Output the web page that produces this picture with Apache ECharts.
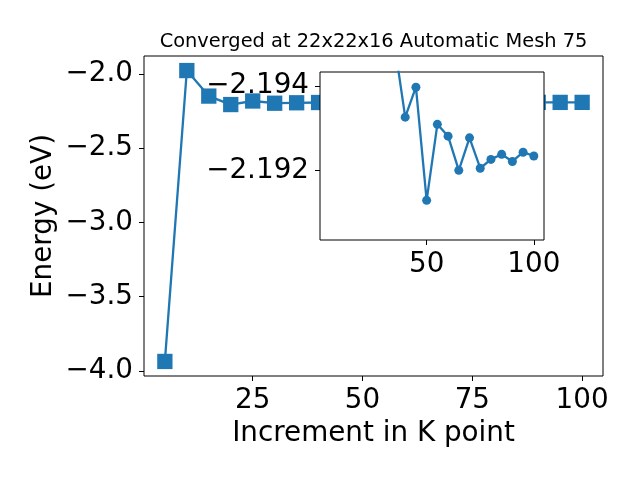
<!DOCTYPE html>
<html>
<head>
<meta charset="utf-8">
<script src="https://cdn.jsdelivr.net/npm/echarts@6/dist/echarts.min.js"></script>
<style>html,body{margin:0;padding:0;background:#fff}#c{width:640px;height:480px}</style>
</head>
<body>
<div id="c"></div>
<script>
const titleText = 'Converged at 22x22x16 Automatic Mesh 75';
const xName = 'Increment in K point';
const yName = 'Energy (eV)';
const kPoints = [5, 10, 15, 20, 25, 30, 35, 40, 45, 50, 55, 60, 65, 70, 75, 80, 85, 90, 95, 100];
const energies = [-3.937, -1.978, -2.150, -2.207, -2.183, -2.198, -2.1950, -2.19326, -2.19397, -2.19129, -2.19309, -2.19281, -2.19200, -2.19277, -2.19205, -2.19226, -2.19238, -2.19221, -2.19243, -2.19234];
const insetKPoints = [35, 40, 45, 50, 55, 60, 65, 70, 75, 80, 85, 90, 95, 100];
const insetEnergies = [-2.1950, -2.19326, -2.19397, -2.19129, -2.19309, -2.19281, -2.19200, -2.19277, -2.19205, -2.19226, -2.19238, -2.19221, -2.19243, -2.19234];
const mainXTicks = [25, 50, 75, 100];
const mainYTicks = [-4.0, -3.5, -3.0, -2.5, -2.0];
const insetXTicks = [50, 100];
const insetYTicks = [-2.194, -2.192];

const FONT = 'DejaVu Sans';
const BLUE = '#1f77b4';
const FS = 27.8;
const fmt = d => v => (v < 0 ? '\u2212' : '') + Math.abs(v).toFixed(d);
const pairs = kPoints.map((k, i) => [k, energies[i]]);
const insetPairs = insetKPoints.map((k, i) => [k, insetEnergies[i]]);

function xAx(grid, ticks, z, min, max) {
  return {
    type: 'value', gridIndex: grid, min: min, max: max, z: z,
    splitLine: {show: false},
    axisLine: {show: false},
    axisTick: {show: true, inside: false, length: 5, customValues: ticks, lineStyle: {color: '#000', width: 1}},
    axisLabel: {customValues: ticks, margin: 11, color: '#000', fontSize: FS, fontFamily: FONT, formatter: v => String(Math.round(v))}
  };
}
function yAx(grid, ticks, z, min, max, dec, inverse) {
  return {
    type: 'value', gridIndex: grid, min: min, max: max, z: z, inverse: inverse,
    splitLine: {show: false},
    axisLine: {show: false},
    axisTick: {show: true, inside: false, length: 5, customValues: ticks, lineStyle: {color: '#000', width: 1}},
    axisLabel: {customValues: ticks, margin: 11, color: '#000', fontSize: FS, fontFamily: FONT, formatter: fmt(dec)}
  };
}

const chart = echarts.init(document.getElementById('c'), null, {renderer: 'canvas'});
const mx = xAx(0, mainXTicks, 1, 0.25, 104.75);
mx.name = xName; mx.nameLocation = 'middle'; mx.nameGap = 44; mx.nameMoveOverlap = false;
mx.nameTextStyle = {fontSize: FS, fontFamily: FONT, color: '#000'};
const my = yAx(0, mainYTicks, 1, -4.035, -1.880, 1, false);
my.name = yName; my.nameLocation = 'middle'; my.nameGap = 86; my.nameMoveOverlap = false;
my.nameTextStyle = {fontSize: FS, fontFamily: FONT, color: '#000'};

chart.setOption({
  animation: false,
  backgroundColor: '#fff',
  title: {
    text: titleText, left: 373.5, top: 32, textAlign: 'center', padding: 0,
    textStyle: {fontSize: 19.4, fontWeight: 'normal', fontFamily: FONT, color: '#000'}
  },
  grid: [
    {left: 144, top: 56, width: 459, height: 320, show: true, borderColor: '#000', borderWidth: 1, backgroundColor: '#fff', z: 0},
    {left: 320, top: 72, width: 224, height: 168, show: true, borderColor: '#000', borderWidth: 1, backgroundColor: '#fff', z: 10}
  ],
  xAxis: [mx, xAx(1, insetXTicks, 11, 0.25, 104.75)],
  yAxis: [my, yAx(1, insetYTicks, 11, -2.19433, -2.19035, 3, true)],
  series: [
    {type: 'line', xAxisIndex: 0, yAxisIndex: 0, data: pairs, symbol: 'rect', symbolSize: 15.3,
     lineStyle: {color: BLUE, width: 2.3}, itemStyle: {color: BLUE, borderWidth: 0}, z: 2, clip: true},
    {type: 'line', xAxisIndex: 1, yAxisIndex: 1, data: insetPairs, symbol: 'circle', symbolSize: 9,
     lineStyle: {color: BLUE, width: 2.3}, itemStyle: {color: BLUE, borderWidth: 0}, z: 12, clip: true}
  ]
});
</script>
</body>
</html>
